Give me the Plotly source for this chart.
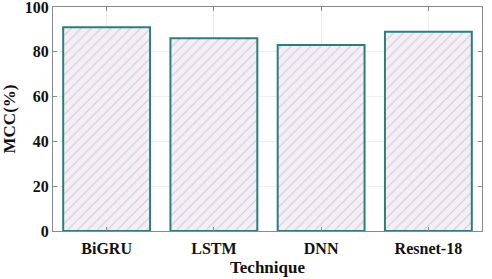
import plotly.graph_objects as go

techniques = ["BiGRU", "LSTM", "DNN", "Resnet-18"]
mcc = [91, 86, 83, 89]
y_ticks = [0, 20, 40, 60, 80, 100]
y_tick_labels = ["0", "20", "40", "60", "80", "100"]

font_family = "Liberation Serif"

fig = go.Figure(go.Bar(
    x=techniques,
    y=mcc,
    marker=dict(
        color="#f4eff6",
        line=dict(color="#2a7f7c", width=2),
        pattern=dict(shape="/", fgcolor="#a9a5ab", bgcolor="#f4eff6", size=7, solidity=0.15),
    ),
))

axis_common = dict(
    showline=True, linecolor="#8a8a8a", linewidth=1, mirror="ticks",
    ticks="inside", ticklen=4, tickcolor="#8a8a8a",
    showgrid=True, gridcolor="#eeeeee", gridwidth=1,
    tickfont=dict(family=font_family, size=16, color="#111111", weight="bold"),
    automargin=False,
    ticklabeloverflow="allow",
)

fig.update_layout(
    width=492, height=279,
    margin=dict(l=53, r=10, t=7, b=48),
    paper_bgcolor="white", plot_bgcolor="white",
    bargap=0.19,
    showlegend=False,
    font=dict(family=font_family, color="#111111"),
    xaxis=dict(
        **axis_common,
        ticklabelstandoff=3,
        title=dict(text="Technique", font=dict(family=font_family, size=17, weight="bold"), standoff=4),
    ),
    yaxis=dict(
        **axis_common,
        range=[0, 100], tickvals=y_ticks, ticktext=y_tick_labels,
        title=dict(text="MCC(%)", font=dict(family=font_family, size=17, weight="bold"), standoff=10),
        zeroline=False,
    ),
)

fig.write_html(
    "out.html",
    config={"displayModeBar": False},
    post_script="document.body.style.margin='0';document.body.style.padding='0';",
)
